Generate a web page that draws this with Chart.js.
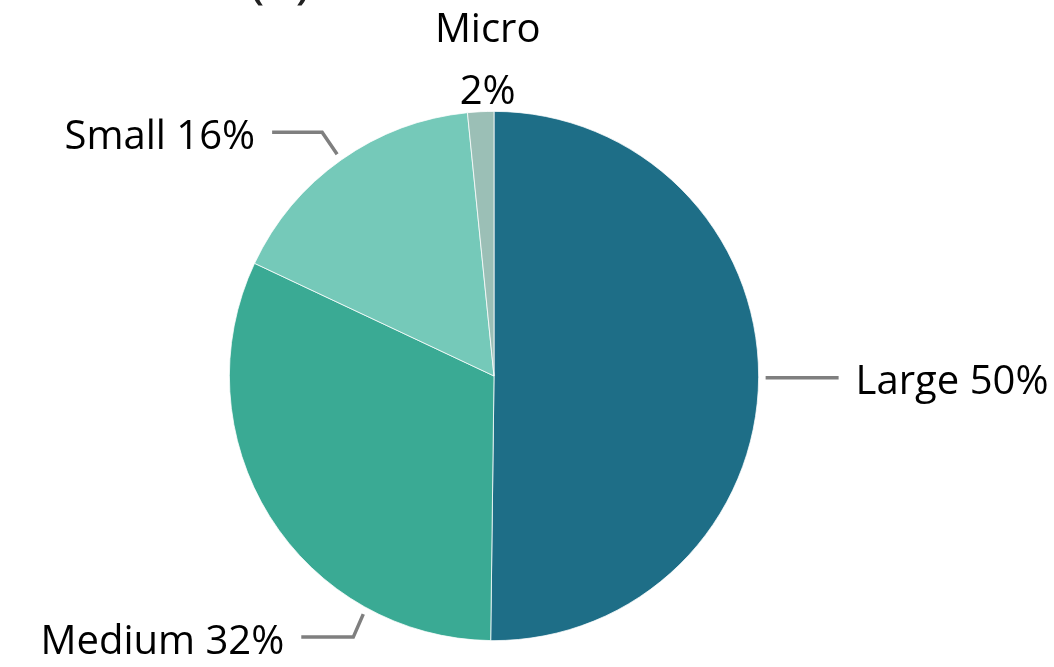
<!DOCTYPE html>
<html>
<head>
<meta charset="utf-8">
<script src="https://cdn.jsdelivr.net/npm/chart.js@4.4.1/dist/chart.umd.min.js"></script>
<style>
  html, body { margin: 0; background: #fff; }
  #wrap { width: 1054px; height: 667px; position: relative; }
</style>
</head>
<body>
<div id="wrap"><canvas id="sizeChart"></canvas></div>
<script>
const categories = ['Large', 'Medium', 'Small', 'Micro'];
const shares = [50.2, 31.8, 16.4, 1.6];
const shareLabels = ['50%', '32%', '16%', '2%'];
const colors = ['#1e6e87', '#3aaa94', '#75c9b9', '#9bbfb6'];

// where each leader line starts (fraction of the slice) and how it bends
const labelLayout = [
  { at: 0.5, elbow: null, run: 73 },
  { at: 0.245, elbow: [-10, 23], run: -52 },
  { at: 0.5, elbow: [-15, -22], run: -50 },
  { at: 0.5, stacked: true }
];

const FONT = '40px "Open Sans", "Noto Sans", sans-serif';

const pieLabels = {
  id: 'pieLabels',
  afterDraw(chart) {
    const ctx = chart.ctx;
    const meta = chart.getDatasetMeta(0);
    ctx.save();
    ctx.font = FONT;
    ctx.fillStyle = '#000';
    ctx.strokeStyle = '#7f7f7f';
    ctx.lineWidth = 3.5;
    ctx.lineJoin = 'miter';

    meta.data.forEach((arc, i) => {
      const lay = labelLayout[i];
      const a = arc.startAngle + (arc.endAngle - arc.startAngle) * lay.at;
      const r = arc.outerRadius;
      if (lay.stacked) {
        const x = arc.x + r * Math.cos(a) + 7;
        const base = arc.y - r - 7;
        ctx.textAlign = 'center';
        ctx.textBaseline = 'alphabetic';
        ctx.fillText(shareLabels[i], x, base);
        ctx.fillText(categories[i], x, base - 62);
        return;
      }
      const p0 = [arc.x + (r + 7) * Math.cos(a), arc.y + (r + 7) * Math.sin(a)];
      const p1 = lay.elbow ? [p0[0] + lay.elbow[0], p0[1] + lay.elbow[1]] : p0;
      const p2 = [p1[0] + lay.run, p1[1]];
      ctx.beginPath();
      ctx.moveTo(p0[0], p0[1]);
      ctx.lineTo(p1[0], p1[1]);
      ctx.lineTo(p2[0], p2[1]);
      ctx.stroke();

      const txt = categories[i] + ' ' + shareLabels[i];
      ctx.textBaseline = 'alphabetic';
      if (lay.run > 0) {
        ctx.textAlign = 'left';
        ctx.fillText(txt, p2[0] + 17, p2[1] + 16);
      } else {
        ctx.textAlign = 'right';
        ctx.fillText(txt, p2[0] - 17, p2[1] + 17);
      }
    });

    // panel tag, mostly cut off by the top edge
    ctx.font = '56px "Open Sans", "Noto Sans", sans-serif';
    ctx.textAlign = 'center';
    ctx.fillStyle = '#222';
    ctx.fillText('(a)', 280, -3);
    ctx.restore();
  }
};

new Chart(document.getElementById('sizeChart').getContext('2d'), {
  type: 'pie',
  data: {
    labels: categories,
    datasets: [{
      data: shares,
      backgroundColor: colors,
      borderColor: '#ffffff',
      borderWidth: 0.75
    }]
  },
  options: {
    responsive: true,
    maintainAspectRatio: false,
    animation: false,
    layout: { padding: { top: 111, bottom: 26, left: 0, right: 66 } },
    plugins: {
      legend: { display: false },
      tooltip: { enabled: false }
    }
  },
  plugins: [pieLabels]
});
</script>
</body>
</html>
